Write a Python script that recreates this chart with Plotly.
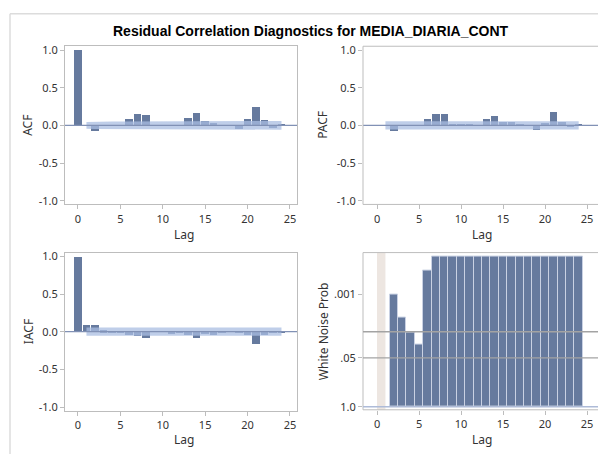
import plotly.graph_objects as go

W, H = 598, 458

# ---------------- data ----------------
LAGS = list(range(0, 25))
ACF = [1.0, -0.01, -0.08, -0.01, -0.01, -0.01, 0.087, 0.15, 0.13, -0.01, -0.01, 0.0,
       -0.005, 0.10, 0.16, 0.057, 0.03, 0.0, -0.01, -0.05, 0.078, 0.235, 0.065, -0.045, 0.01]
IACF = [1.0, 0.10, 0.092, 0.026, 0.018, 0.015, -0.04, -0.057, -0.079, 0.0, 0.0, -0.027,
        -0.01, -0.045, -0.074, -0.02, -0.04, -0.01, 0.0, 0.02, -0.045, -0.16, -0.035, 0.02, -0.01]
PACF_LAGS = list(range(1, 25))
PACF = [-0.01, -0.078, -0.01, -0.01, -0.01, 0.078, 0.15, 0.148, 0.01, 0.005, 0.005, -0.01,
        0.075, 0.117, 0.035, 0.04, 0.01, 0.0, -0.065, 0.025, 0.174, 0.04, -0.03, 0.01]
BAND_LAGS = list(range(1, 25))
ACF_CI = [0.045, 0.050, 0.052, 0.052, 0.052, 0.052, 0.053, 0.054, 0.055, 0.055, 0.055, 0.055,
          0.055, 0.056, 0.057, 0.057, 0.057, 0.057, 0.057, 0.057, 0.057, 0.058, 0.058, 0.058]
PACF_CI = [0.055, 0.055, 0.055, 0.055, 0.055, 0.055, 0.055, 0.055, 0.055, 0.055, 0.055, 0.055,
           0.055, 0.055, 0.055, 0.055, 0.055, 0.055, 0.055, 0.055, 0.055, 0.055, 0.055, 0.055]
IACF_CI = [0.055, 0.055, 0.055, 0.055, 0.055, 0.055, 0.055, 0.055, 0.055, 0.055, 0.055, 0.055,
           0.055, 0.055, 0.055, 0.055, 0.055, 0.055, 0.055, 0.055, 0.055, 0.055, 0.055, 0.055]
WN_LAGS = list(range(2, 25))
WN_PROB = [0.001, 0.0041, 0.0105, 0.0215, 0.00024] + [0.0001] * 18
WN_BASE = 1.0
WN_REF = [0.01, 0.05]

X_TICKS = [0, 5, 10, 15, 20, 25]
Y_TICKS = [-1.0, -0.5, 0.0, 0.5, 1.0]
Y_TICKTEXT = ["-1.0", "-0.5", "0.0", "0.5", "1.0"]
WN_TICKS = [0.001, 0.05, 1.0]
WN_TICKTEXT = [".001", ".05", "1.0"]
TITLE = "Residual Correlation Diagnostics for MEDIA_DIARIA_CONT"

# ---------------- style ----------------
BAR = "#667a9e"
BAND = "rgba(170,190,225,0.75)"
FRAME = "#bdbdbd"
ZERO = "#8191b5"
TXT = "#333333"
FONT = "Noto Sans"


def px_x(p):
    return p / W


def px_y(p):
    return 1 - p / H


fig = go.Figure()


def band(xa, ya, ci):
    xs = BAND_LAGS + BAND_LAGS[::-1]
    ys = ci + [-v for v in ci[::-1]]
    fig.add_trace(go.Scatter(x=xs, y=ys, fill="toself", fillcolor=BAND, mode="lines",
                             line=dict(width=0), xaxis=xa, yaxis=ya, hoverinfo="skip",
                             showlegend=False))


band("x", "y", ACF_CI)
fig.add_trace(go.Bar(x=LAGS, y=ACF, width=0.88, marker=dict(color=BAR, line=dict(width=0)),
                     xaxis="x", yaxis="y", showlegend=False))
band("x2", "y2", PACF_CI)
fig.add_trace(go.Bar(x=PACF_LAGS, y=PACF, width=0.88, marker=dict(color=BAR, line=dict(width=0)),
                     xaxis="x2", yaxis="y2", showlegend=False))
band("x3", "y3", IACF_CI)
fig.add_trace(go.Bar(x=LAGS, y=IACF, width=0.88, marker=dict(color=BAR, line=dict(width=0)),
                     xaxis="x3", yaxis="y3", showlegend=False))
# white-noise bars span from the 1.0 baseline up to each probability (bar length = p - base)
fig.add_trace(go.Bar(x=WN_LAGS, y=[p - WN_BASE for p in WN_PROB], base=[WN_BASE] * len(WN_LAGS),
                     width=1.0, marker=dict(color=BAR, line=dict(width=1, color="#c9d1e3")),
                     xaxis="x4", yaxis="y4", showlegend=False))

# domains (pixel-derived); right panels run past the page edge
L_DOM = [px_x(65), px_x(297)]
R_DOM = [px_x(363), 1.0]
T_DOM = [px_y(204), px_y(43)]
B_DOM = [px_y(414), px_y(253)]
B4_DOM = [px_y(413), px_y(253)]


def xax(dom, rng, anchor, line):
    return dict(domain=dom, range=rng, anchor=anchor, showline=line, linecolor=FRAME,
                linewidth=1, mirror=True, ticks="outside", ticklen=4, tickcolor=FRAME,
                tickvals=X_TICKS, showgrid=False, zeroline=False,
                tickfont=dict(family=FONT, size=11, color=TXT))


def yax(dom, anchor, line):
    return dict(domain=dom, range=[-1.05, 1.05], anchor=anchor, showline=line, linecolor=FRAME,
                linewidth=1, mirror=True, ticks="outside", ticklen=4, tickcolor=FRAME,
                tickvals=Y_TICKS, ticktext=Y_TICKTEXT, showgrid=False, zeroline=False,
                tickfont=dict(family=FONT, size=11, color=TXT))


fig.update_layout(
    width=W, height=H, margin=dict(l=0, r=0, t=0, b=0),
    paper_bgcolor="white", plot_bgcolor="white", bargap=0,
    xaxis=xax(L_DOM, [-1.53, 25.83], "y", True),
    yaxis=yax(T_DOM, "x", True),
    xaxis2=xax(R_DOM, [-1.67, 26.3], "y2", False),
    yaxis2=yax(T_DOM, "x2", False),
    xaxis3=xax(L_DOM, [-1.53, 25.83], "y3", True),
    yaxis3=yax(B_DOM, "x3", True),
    xaxis4=xax(R_DOM, [-1.67, 26.3], "y4", False),
    yaxis4=dict(domain=B4_DOM, type="log", range=[0.08, -4.11], anchor="x4", showline=False,
                ticks="outside", ticklen=4,
                tickcolor=FRAME, tickvals=WN_TICKS, ticktext=WN_TICKTEXT, showgrid=False,
                zeroline=False, tickfont=dict(family=FONT, size=11, color=TXT)),
)

shapes = []
for xa, ya in [("x", "y"), ("x2", "y2"), ("x3", "y3")]:
    shapes.append(dict(type="line", xref=f"{xa} domain", yref=ya, x0=0, x1=1, y0=0, y1=0,
                       line=dict(color=ZERO, width=1.3), layer="above"))
# open frames (left, top, bottom) of the right-hand panels
for xa, ya in [("x2", "y2"), ("x4", "y4")]:
    for (x0, x1, y0, y1) in [(0, 1.2, 1, 1), (0, 1.2, 0, 0), (0, 0, 0, 1)]:
        shapes.append(dict(type="line", xref=f"{xa} domain", yref=f"{ya} domain",
                           x0=x0, x1=x1, y0=y0, y1=y1, line=dict(color=FRAME, width=1),
                           layer="above"))
# white-noise panel decorations
shapes.append(dict(type="rect", xref="x4", yref="y4 domain", x0=0, x1=1, y0=0, y1=1,
                   fillcolor="#ede6e1", line=dict(width=0), layer="below"))
for v in WN_REF:
    shapes.append(dict(type="line", xref="x4 domain", yref="y4", x0=0, x1=1, y0=v, y1=v,
                       line=dict(color="#a3a3a3", width=1.3), layer="above"))
shapes.append(dict(type="line", xref="x4 domain", yref="y4", x0=0, x1=1, y0=WN_BASE, y1=WN_BASE,
                   line=dict(color="#aebbd8", width=1.5), layer="above"))
# outer page border
shapes.append(dict(type="line", xref="paper", yref="paper", x0=px_x(10), x1=px_x(10),
                   y0=0, y1=px_y(10), line=dict(color="#dcdcdc", width=1.5)))
shapes.append(dict(type="line", xref="paper", yref="paper", x0=px_x(10), x1=1.01,
                   y0=px_y(10), y1=px_y(10), line=dict(color="#dcdcdc", width=1.5)))
fig.update_layout(shapes=shapes)

ann = [dict(text=f"<b>{TITLE}</b>", x=px_x(311), y=px_y(27), xref="paper", yref="paper",
            showarrow=False, xanchor="center", yanchor="middle",
            font=dict(family="Liberation Sans", size=14, color="#000000"))]
for txt, x, y in [("ACF", 28, 123), ("PACF", 323, 123), ("IACF", 28, 333),
                  ("White Noise Prob", 323, 333)]:
    ann.append(dict(text=txt, x=px_x(x), y=px_y(y), xref="paper", yref="paper",
                    showarrow=False, textangle=-90, xanchor="center", yanchor="middle",
                    font=dict(family=FONT, size=12, color=TXT)))
for x, y in [(184, 235), (482, 235), (184, 443), (482, 443)]:
    ann.append(dict(text="Lag", x=px_x(x), y=px_y(y), xref="paper", yref="paper",
                    showarrow=False, xanchor="center", yanchor="middle",
                    font=dict(family=FONT, size=12, color=TXT)))
fig.update_layout(annotations=ann)

fig.write_html("out.html")
